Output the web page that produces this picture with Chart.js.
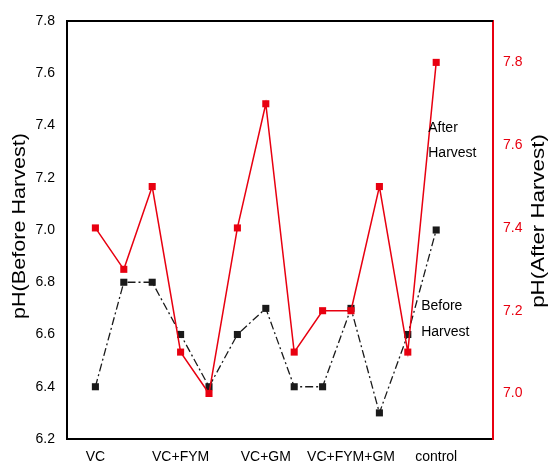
<!DOCTYPE html>
<html>
<head>
<meta charset="utf-8">
<script src="https://cdn.jsdelivr.net/npm/chart.js@4"></script>
<style>
  html, body { margin: 0; padding: 0; background: #fff; }
  #wrap { width: 548px; height: 464px; }
</style>
</head>
<body>
<div id="wrap"><canvas id="ph" width="548" height="464"></canvas></div>
<script>
// treatment groups shown on the x axis, one every third sample
const groups = ['VC', 'VC+FYM', 'VC+GM', 'VC+FYM+GM', 'control'];
const groupPos = [1, 4, 7, 10, 13];

// pH readings, 13 samples
const beforeHarvest = [6.4, 6.8, 6.8, 6.6, 6.4, 6.6, 6.7, 6.4, 6.4, 6.7, 6.3, 6.6, 7.0];
const afterHarvest = [7.4, 7.3, 7.5, 7.1, 7.0, 7.4, 7.7, 7.1, 7.2, 7.2, 7.5, 7.1, 7.8];

const leftTicks = [6.2, 6.4, 6.6, 6.8, 7.0, 7.2, 7.4, 7.6, 7.8];
const rightTicks = [7.0, 7.2, 7.4, 7.6, 7.8];

const FONT = '"Liberation Sans", Arial, sans-serif';
const RED = 'rgb(232,0,16)';

const toPoints = arr => arr.map((v, i) => ({ x: i + 1, y: v }));

// white background, top border, rotated axis titles and in-plot labels
const decor = {
  id: 'decor',
  beforeDraw(chart) {
    const { ctx } = chart;
    ctx.save();
    ctx.fillStyle = '#fff';
    ctx.fillRect(0, 0, chart.width, chart.height);
    ctx.restore();
  },
  afterDraw(chart) {
    const { ctx, chartArea: a, scales } = chart;
    ctx.save();
    // top frame line
    ctx.strokeStyle = '#000';
    ctx.lineWidth = 2;
    ctx.beginPath();
    ctx.moveTo(a.left - 1, a.top);
    ctx.lineTo(a.right, a.top);
    ctx.stroke();

    // axis titles, both reading bottom to top
    const title = (text, x, y, stretch) => {
      ctx.save();
      ctx.translate(x, y);
      ctx.rotate(-Math.PI / 2);
      ctx.scale(stretch, 1);
      ctx.font = '18px ' + FONT;
      ctx.fillStyle = '#000';
      ctx.textAlign = 'center';
      ctx.textBaseline = 'middle';
      ctx.fillText(text, 0, 0);
      ctx.restore();
    };
    title('pH(Before Harvest)', 20, 226, 1.2);
    title('pH(After Harvest)', 539, 221, 1.24);

    // series labels inside the plot
    ctx.font = '14px ' + FONT;
    ctx.fillStyle = '#000';
    ctx.textAlign = 'left';
    ctx.textBaseline = 'alphabetic';
    const x = scales.x, yl = scales.y;
    ctx.fillText('After', x.getPixelForValue(12.72), yl.getPixelForValue(7.375));
    ctx.fillText('Harvest', x.getPixelForValue(12.72), yl.getPixelForValue(7.28));
    ctx.fillText('Before', x.getPixelForValue(12.47), yl.getPixelForValue(6.695));
    ctx.fillText('Harvest', x.getPixelForValue(12.47), yl.getPixelForValue(6.595));
    ctx.restore();
  }
};

new Chart(document.getElementById('ph'), {
  type: 'line',
  data: {
    datasets: [
      {
        label: 'After Harvest',
        data: toPoints(afterHarvest),
        yAxisID: 'y2',
        borderColor: RED,
        backgroundColor: RED,
        borderWidth: 1.5,
        pointStyle: 'rect',
        pointRadius: 5,
        pointBorderWidth: 0,
        tension: 0,
        order: 1
      },
      {
        label: 'Before Harvest',
        data: toPoints(beforeHarvest),
        yAxisID: 'y',
        borderColor: '#1a1a1a',
        backgroundColor: '#1a1a1a',
        borderWidth: 1.3,
        borderDash: [8, 3, 2, 3],
        pointStyle: 'rect',
        pointRadius: 5,
        pointBorderWidth: 0,
        tension: 0,
        order: 2
      }
    ]
  },
  options: {
    responsive: false,
    animation: false,
    layout: { padding: { top: 21, left: 0, right: 0, bottom: 0 } },
    plugins: {
      legend: { display: false },
      tooltip: { enabled: false }
    },
    scales: {
      x: {
        type: 'linear',
        min: 0,
        max: 15,
        afterBuildTicks: s => { s.ticks = groupPos.map(v => ({ value: v })); },
        afterFit: s => { s.height = 25; },
        grid: { display: false, drawTicks: false },
        border: { display: true, color: '#000', width: 2 },
        ticks: {
          padding: 10,
          color: '#000',
          font: { family: FONT, size: 14 },
          maxRotation: 0,
          autoSkip: false,
          callback: v => groups[groupPos.indexOf(v)]
        }
      },
      y: {
        position: 'left',
        min: 6.2,
        max: 7.8,
        afterBuildTicks: s => { s.ticks = leftTicks.map(v => ({ value: v })); },
        afterFit: s => { s.width = 67; },
        grid: { display: false, drawTicks: false },
        border: { display: true, color: '#000', width: 2 },
        ticks: {
          padding: 12,
          color: '#000',
          font: { family: FONT, size: 14 },
          callback: v => v.toFixed(1)
        }
      },
      y2: {
        position: 'right',
        min: 6.89,
        max: 7.9,
        afterBuildTicks: s => { s.ticks = rightTicks.map(v => ({ value: v })); },
        afterFit: s => { s.width = 55; },
        grid: { display: false, drawTicks: false },
        border: { display: true, color: RED, width: 2 },
        ticks: {
          padding: 10,
          color: RED,
          font: { family: FONT, size: 14 },
          callback: v => v.toFixed(1)
        }
      }
    }
  },
  plugins: [decor]
});
</script>
</body>
</html>
